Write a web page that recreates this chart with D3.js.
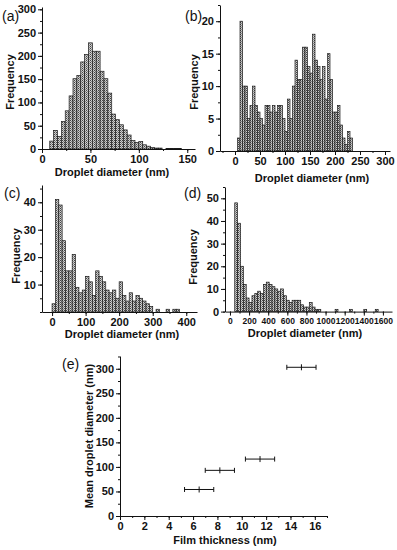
<!DOCTYPE html>
<html><head><meta charset="utf-8">
<script src="https://cdn.jsdelivr.net/npm/d3@7"></script>
<style>
body{margin:0;background:#fff;}
svg{display:block;}
text{font-family:"Liberation Sans Narrow","Arial Narrow","Liberation Sans",Arial,sans-serif;fill:#111;font-weight:bold;}
</style></head><body>
<svg id="chart" width="397" height="550"></svg>
<script>
// ---------- data ----------
const aBinStart = 8, aBinWidth = 4;
const aCounts = [17,40,27,59,82,114,151,158,187,203,228,210,210,167,151,120,75,63,52,41,30,18,14,16,9,6,3,2,2,0,1,1,1,1];
const aXTicks = [0,50,100,150];
const aYTicks = [0,50,100,150,200,250,300];

const bBinStart = 5, bBinWidth = 5;
const bCounts = [2,20,10,10,5,7,10,7,6,5,4,7,7,6,7,6,7,7,5,3,8,5,10,14,11,11,16,16,13,12,18,14,13,11,13,8,15,11,6,6,7,4,2,1,3,2];
const bXTicks = [0,50,100,150,200,250,300];
const bYTicks = [0,5,10,15,20];

const cBinStart = 0, cBinWidth = 10;
const cCounts = [3,41,39,26,15,15,21,9,7,8,13,11,6,15,13,11,8,7,8,5,11,6,4,7,4,6,5,4,3,2,0,1,0,0,1,0,1,1];
const cXTicks = [0,100,200,300,400];
const cYTicks = [10,20,30,40];

const dBinStart = 50, dBinWidth = 30;
const dCounts = [48,39,20,12,6,4,7,8,9,8,12,13,12,11,10,9,10,7,5,4,5,5,5,3,2,2,4,2,1,1,0,0,0,0,0,1,0,0,0,0,1,0,0,0,0,1,0,0,0,1];
const dXTicks = [0,200,400,600,800,1000,1200,1400,1600];
const dYTicks = [0,10,20,30,40,50];

const eThickness = [6.5, 8.2, 11.5, 14.9];
const eThicknessErr = [1.2, 1.2, 1.2, 1.2];
const eDiameter = [54, 93, 116, 303];
const eXTicks = [0,2,4,6,8,10,12,14,16];
const eYTicks = [0,50,100,150,200,250,300];

// ---------- drawing ----------
const svg = d3.select("#chart");
const defs = svg.append("defs");
const pat = defs.append("pattern").attr("id","hatch").attr("patternUnits","userSpaceOnUse")
  .attr("width",2).attr("height",2);
pat.append("rect").attr("width",2).attr("height",2).attr("fill","#cfcfcf");
pat.append("rect").attr("width",1).attr("height",1).attr("fill","#444");
pat.append("rect").attr("x",1).attr("y",1).attr("width",1).attr("height",1).attr("fill","#858585");

const FONT = '"Liberation Sans Narrow","Arial Narrow","Liberation Sans",Arial,sans-serif';
function styleAxis(g, fs){
  g.select(".domain").attr("stroke","#111").attr("stroke-width",1);
  g.selectAll(".tick line").attr("stroke","#111").attr("stroke-width",1);
  g.selectAll(".tick text").attr("font-size",fs).attr("fill","#111")
    .style("font-family",FONT).style("font-weight","bold");
}
function minorVals(domain, step){
  const out=[]; const s=Math.ceil(domain[0]/step)*step;
  for(let v=s; v<=domain[1]+1e-9; v+=step) out.push(+v.toFixed(6));
  return out;
}

function drawAxes(p, x, y){
  const gx = svg.append("g").attr("transform",`translate(0,${p.bottom})`)
    .call(d3.axisBottom(x).tickValues(p.xTicks).tickSize(4).tickSizeOuter(0).tickPadding(2).tickFormat(d3.format("d")));
  styleAxis(gx, p.xfs);
  const gxm = svg.append("g").attr("transform",`translate(0,${p.bottom})`)
    .call(d3.axisBottom(x).tickValues(minorVals(p.xDomain,p.xMinor)).tickSize(2).tickSizeOuter(0).tickFormat(""));
  styleAxis(gxm, p.xfs); gxm.select(".domain").remove();
  const gy = svg.append("g").attr("transform",`translate(${p.left},0)`)
    .call(d3.axisLeft(y).tickValues(p.yTicks).tickSize(4).tickSizeOuter(0).tickPadding(2).tickFormat(d3.format("d")));
  styleAxis(gy, p.yfs);
  const gym = svg.append("g").attr("transform",`translate(${p.left},0)`)
    .call(d3.axisLeft(y).tickValues(minorVals(p.yDomain,p.yMinor)).tickSize(2).tickSizeOuter(0).tickFormat(""));
  styleAxis(gym, p.yfs); gym.select(".domain").remove();
  svg.append("text").attr("x",p.xTitle[0]).attr("y",p.xTitle[1]).attr("text-anchor","middle")
    .attr("font-size",11).text(p.xLabel);
  svg.append("text").attr("transform",`translate(${p.yTitle[0]},${p.yTitle[1]}) rotate(-90)`)
    .attr("text-anchor","middle").attr("font-size",11).text(p.yLabel);
  svg.append("text").attr("x",p.tag[0]).attr("y",p.tag[1]).attr("font-size",14)
    .style("font-family","'Liberation Sans',Arial,sans-serif").style("font-weight","normal").text(p.tagText);
}

function hist(p){
  const x = d3.scaleLinear().domain(p.xDomain).range([p.left,p.right]);
  const y = d3.scaleLinear().domain(p.yDomain).range([p.bottom,p.top]);
  const data = p.counts.map((c,i)=>({c, lo:p.binStart+i*p.binWidth, hi:p.binStart+(i+1)*p.binWidth})).filter(d=>d.c>0);
  svg.append("g").selectAll("rect").data(data).join("rect")
    .attr("x",d=>x(d.lo)).attr("width",d=>x(d.hi)-x(d.lo))
    .attr("y",d=>y(d.c)).attr("height",d=>y(0)-y(d.c))
    .attr("fill","url(#hatch)").attr("stroke","#1a1a1a").attr("stroke-width",0.7);
  drawAxes(p, x, y);
}

hist({counts:aCounts, binStart:aBinStart, binWidth:aBinWidth,
  left:42, right:195, top:7, bottom:149, xDomain:[0,158], yDomain:[0,305],
  xTicks:aXTicks, yTicks:aYTicks, xMinor:25, yMinor:25, xfs:11, yfs:11,
  xLabel:"Droplet diameter (nm)", yLabel:"Frequency",
  xTitle:[112,176], yTitle:[14,82], tag:[2,21], tagText:"(a)"});

hist({counts:bCounts, binStart:bBinStart, binWidth:bBinWidth,
  left:220, right:390, top:5, bottom:151, xDomain:[-30,310], yDomain:[0,22.5],
  xTicks:bXTicks, yTicks:bYTicks, xMinor:25, yMinor:2.5, xfs:11, yfs:11,
  xLabel:"Droplet diameter (nm)", yLabel:"Frequency",
  xTitle:[312,182], yTitle:[198,82], tag:[185,21], tagText:"(b)"});

hist({counts:cCounts, binStart:cBinStart, binWidth:cBinWidth,
  left:42, right:197, top:185, bottom:312, xDomain:[-30,432], yDomain:[0,46.3],
  xTicks:cXTicks, yTicks:cYTicks, xMinor:50, yMinor:5, xfs:11, yfs:11,
  xLabel:"Droplet diameter (nm)", yLabel:"Frequency",
  xTitle:[122,338], yTitle:[20,256], tag:[4,198], tagText:"(c)"});

hist({counts:dCounts, binStart:dBinStart, binWidth:dBinWidth,
  left:225, right:392, top:187, bottom:311.6, xDomain:[-52,1695], yDomain:[0,55],
  xTicks:dXTicks, yTicks:dYTicks, xMinor:100, yMinor:5, xfs:8.5, yfs:11,
  xLabel:"Droplet diameter (nm)", yLabel:"Frequency",
  xTitle:[305,337], yTitle:[197,257], tag:[184,198], tagText:"(d)"});

// panel (e)
(function(){
  const p = {left:120, right:327, top:356, bottom:516, xDomain:[0,17], yDomain:[0,326],
    xTicks:eXTicks, yTicks:eYTicks, xMinor:1, yMinor:25, xfs:11, yfs:11,
    xLabel:"Film thickness (nm)", yLabel:"Mean droplet diameter (nm)",
    xTitle:[225,544], yTitle:[93,436], tag:[62,369], tagText:"(e)"};
  const x = d3.scaleLinear().domain(p.xDomain).range([p.left,p.right]);
  const y = d3.scaleLinear().domain(p.yDomain).range([p.bottom,p.top]);
  drawAxes(p, x, y);
  const pts = eThickness.map((t,i)=>({t, e:eThicknessErr[i], d:eDiameter[i]}));
  const g = svg.append("g").attr("stroke","#111").attr("stroke-width",1);
  g.selectAll("line.h").data(pts).join("line").attr("class","h")
    .attr("x1",d=>x(d.t-d.e)).attr("x2",d=>x(d.t+d.e)).attr("y1",d=>y(d.d)).attr("y2",d=>y(d.d));
  g.selectAll("line.c1").data(pts).join("line").attr("class","c1")
    .attr("x1",d=>x(d.t-d.e)).attr("x2",d=>x(d.t-d.e)).attr("y1",d=>y(d.d)-2.5).attr("y2",d=>y(d.d)+2.5);
  g.selectAll("line.c2").data(pts).join("line").attr("class","c2")
    .attr("x1",d=>x(d.t+d.e)).attr("x2",d=>x(d.t+d.e)).attr("y1",d=>y(d.d)-2.5).attr("y2",d=>y(d.d)+2.5);
  g.selectAll("line.m").data(pts).join("line").attr("class","m")
    .attr("x1",d=>x(d.t)).attr("x2",d=>x(d.t)).attr("y1",d=>y(d.d)-3).attr("y2",d=>y(d.d)+3);
})();
</script>
</body></html>
